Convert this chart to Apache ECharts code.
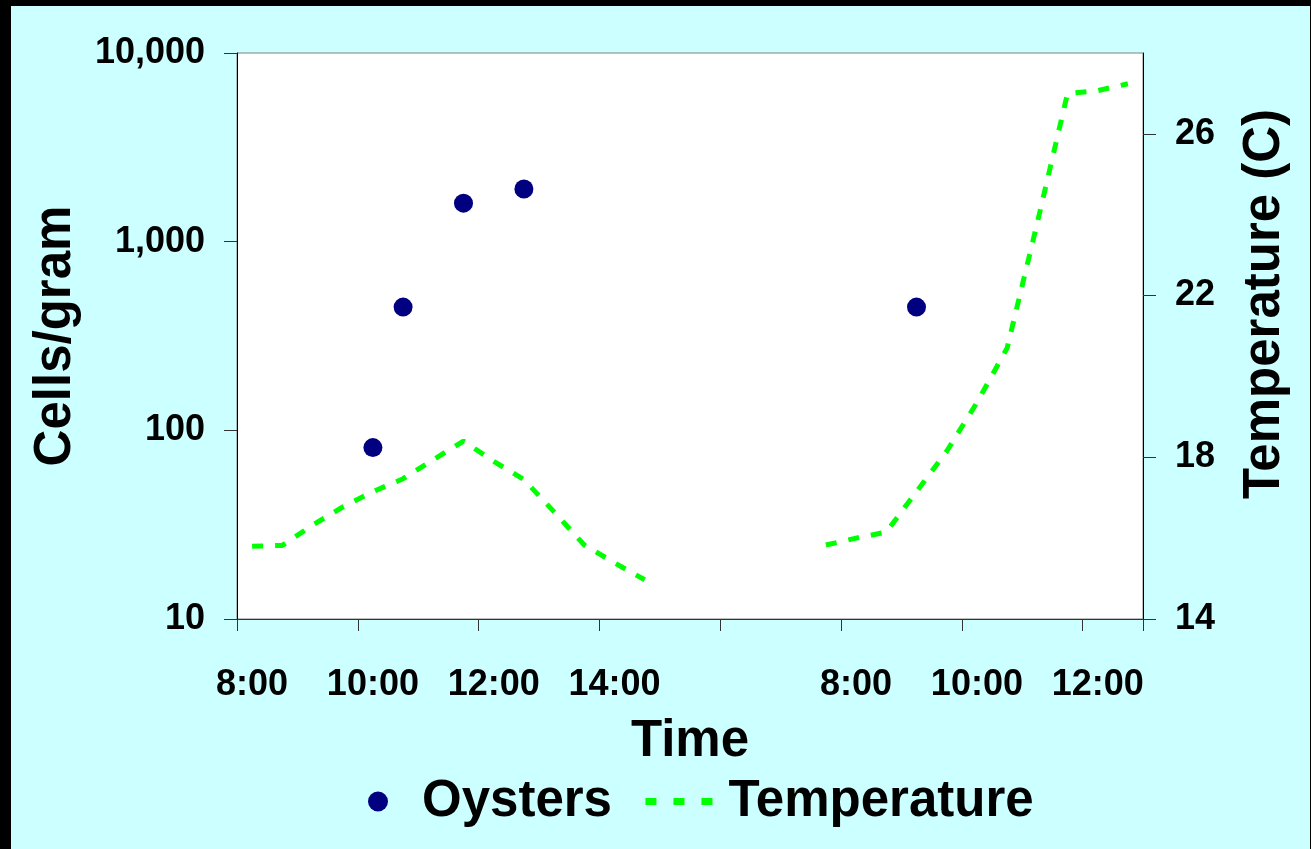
<!DOCTYPE html>
<html>
<head>
<meta charset="utf-8">
<script src="https://cdn.jsdelivr.net/npm/echarts@6/dist/echarts.min.js"></script>
<style>
  html, body { margin: 0; padding: 0; background: #000; }
  #frame { position: relative; width: 1311px; height: 849px; background: #000; overflow: hidden; }
  #chart { position: absolute; left: 11px; top: 6px; width: 1299px; height: 843px; background: #CCFFFF; }
</style>
</head>
<body>
<div id="frame"><div id="chart"></div></div>
<script>
// Category slots: 30-minute steps, day 1 then day 2
const day1Times = ['8:00','8:30','9:00','9:30','10:00','10:30','11:00','11:30','12:00','12:30','13:00','13:30','14:00','14:30','15:00','15:30'];
const day2Times = ['6:00','6:30','7:00','7:30','8:00','8:30','9:00','9:30','10:00','10:30','11:00','11:30','12:00','12:30'];

// Oysters (cells/gram)
const oystersDay1 = [null,null,null,null,81,450,null,1600,null,1900,null,null,null,null,null,null];
const oystersDay2 = [null,null,null,null,null,null,450,null,null,null,null,null,null,null];

// Temperature (C)
const tempDay1 = [15.8,15.82,16.32,16.77,17.15,17.47,17.94,18.4,17.9,17.45,16.65,15.83,15.39,14.97,null,null];
const tempDay2 = [null,null,null,15.83,16.0,16.15,17.15,18.15,19.35,20.7,23.8,27.0,27.07,27.24];

// Tick labels
const xLabelSlots = [0,4,8,12,20,24,28];
const xTickSlots = [0,4,8,12,16,20,24,28];
const leftTickLabels = ['10','100','1,000','10,000'];
const rightTicks = [14,18,22,26];

const categories = day1Times.concat(day2Times);
const oysters = oystersDay1.concat(oystersDay2);
const temperature = tempDay1.concat(tempDay2);

const FONT = 'Liberation Sans, Arial, sans-serif';
const chart = echarts.init(document.getElementById('chart'), null, { renderer: 'canvas' });

chart.setOption({
  backgroundColor: '#CCFFFF',
  animation: false,
  textStyle: { fontFamily: FONT, fontWeight: 'bold', color: '#000' },
  grid: {
    left: 226, top: 47, right: 167, bottom: 230,
    show: true, backgroundColor: '#ffffff', borderColor: '#808080', borderWidth: 1,
    containLabel: false
  },
  legend: {
    left: 352, top: 765,
    itemWidth: 78, itemHeight: 20, itemGap: 30,
    textStyle: { fontSize: 51, fontWeight: 'bold', fontFamily: FONT, color: '#000' },
    data: [
      { name: 'Oysters', icon: 'circle', itemStyle: { color: '#000080', opacity: 1 } },
      { name: 'Temperature', itemStyle: { opacity: 0 }, lineStyle: { type: [11, 17], width: 7, color: '#00FF00' } }
    ]
  },
  xAxis: {
    type: 'category',
    data: categories,
    boundaryGap: true,
    name: 'Time',
    nameLocation: 'middle',
    nameGap: 97,
    nameTextStyle: { fontSize: 51, fontWeight: 'bold', fontFamily: FONT, color: '#000' },
    axisLine: { lineStyle: { color: '#333', width: 1 } },
    axisTick: { show: true, length: 12, interval: (i) => xTickSlots.includes(i), lineStyle: { color: '#333' } },
    axisLabel: {
      interval: (i) => xLabelSlots.includes(i),
      margin: 48, fontSize: 36, fontWeight: 'bold', fontFamily: FONT, color: '#000'
    },
    splitLine: { show: false }
  },
  yAxis: [
    {
      type: 'log', logBase: 10, min: 10, max: 10000,
      position: 'left',
      name: 'Cells/gram', nameLocation: 'middle', nameGap: 156,
      nameTextStyle: { fontSize: 51, fontWeight: 'bold', fontFamily: FONT, color: '#000' },
      axisLine: { show: true, lineStyle: { color: '#000', width: 1 } },
      axisTick: { show: true, length: 13, lineStyle: { color: '#333' } },
      axisLabel: {
        margin: 32, fontSize: 36, fontWeight: 'bold', fontFamily: FONT, color: '#000',
        formatter: (v) => leftTickLabels[Math.round(Math.log10(v)) - 1]
      },
      splitLine: { show: false },
      minorTick: { show: false }
    },
    {
      type: 'value', min: 14, max: 28,
      position: 'right',
      name: 'Temperature (C)', nameLocation: 'middle', nameGap: 96,
      nameTextStyle: { fontSize: 51, fontWeight: 'bold', fontFamily: FONT, color: '#000', padding: [0, 0, 0, 64] },
      axisLine: { show: true, lineStyle: { color: '#000', width: 1 } },
      axisTick: { show: true, length: 13, customValues: rightTicks, lineStyle: { color: '#333' } },
      axisLabel: {
        customValues: rightTicks,
        margin: 32, fontSize: 36, fontWeight: 'bold', fontFamily: FONT, color: '#000'
      },
      splitLine: { show: false }
    }
  ],
  series: [
    {
      name: 'Oysters', type: 'scatter', yAxisIndex: 0,
      data: oysters,
      symbol: 'circle', symbolSize: 19,
      itemStyle: { color: '#000080', opacity: 1 },
      z: 3
    },
    {
      name: 'Temperature', type: 'line', yAxisIndex: 1,
      data: temperature,
      connectNulls: false,
      symbol: 'none', showSymbol: false,
      itemStyle: { color: '#00FF00' },
      lineStyle: { color: '#00FF00', width: 5, type: [11, 12] },
      z: 2
    }
  ]
});
</script>
</body>
</html>
